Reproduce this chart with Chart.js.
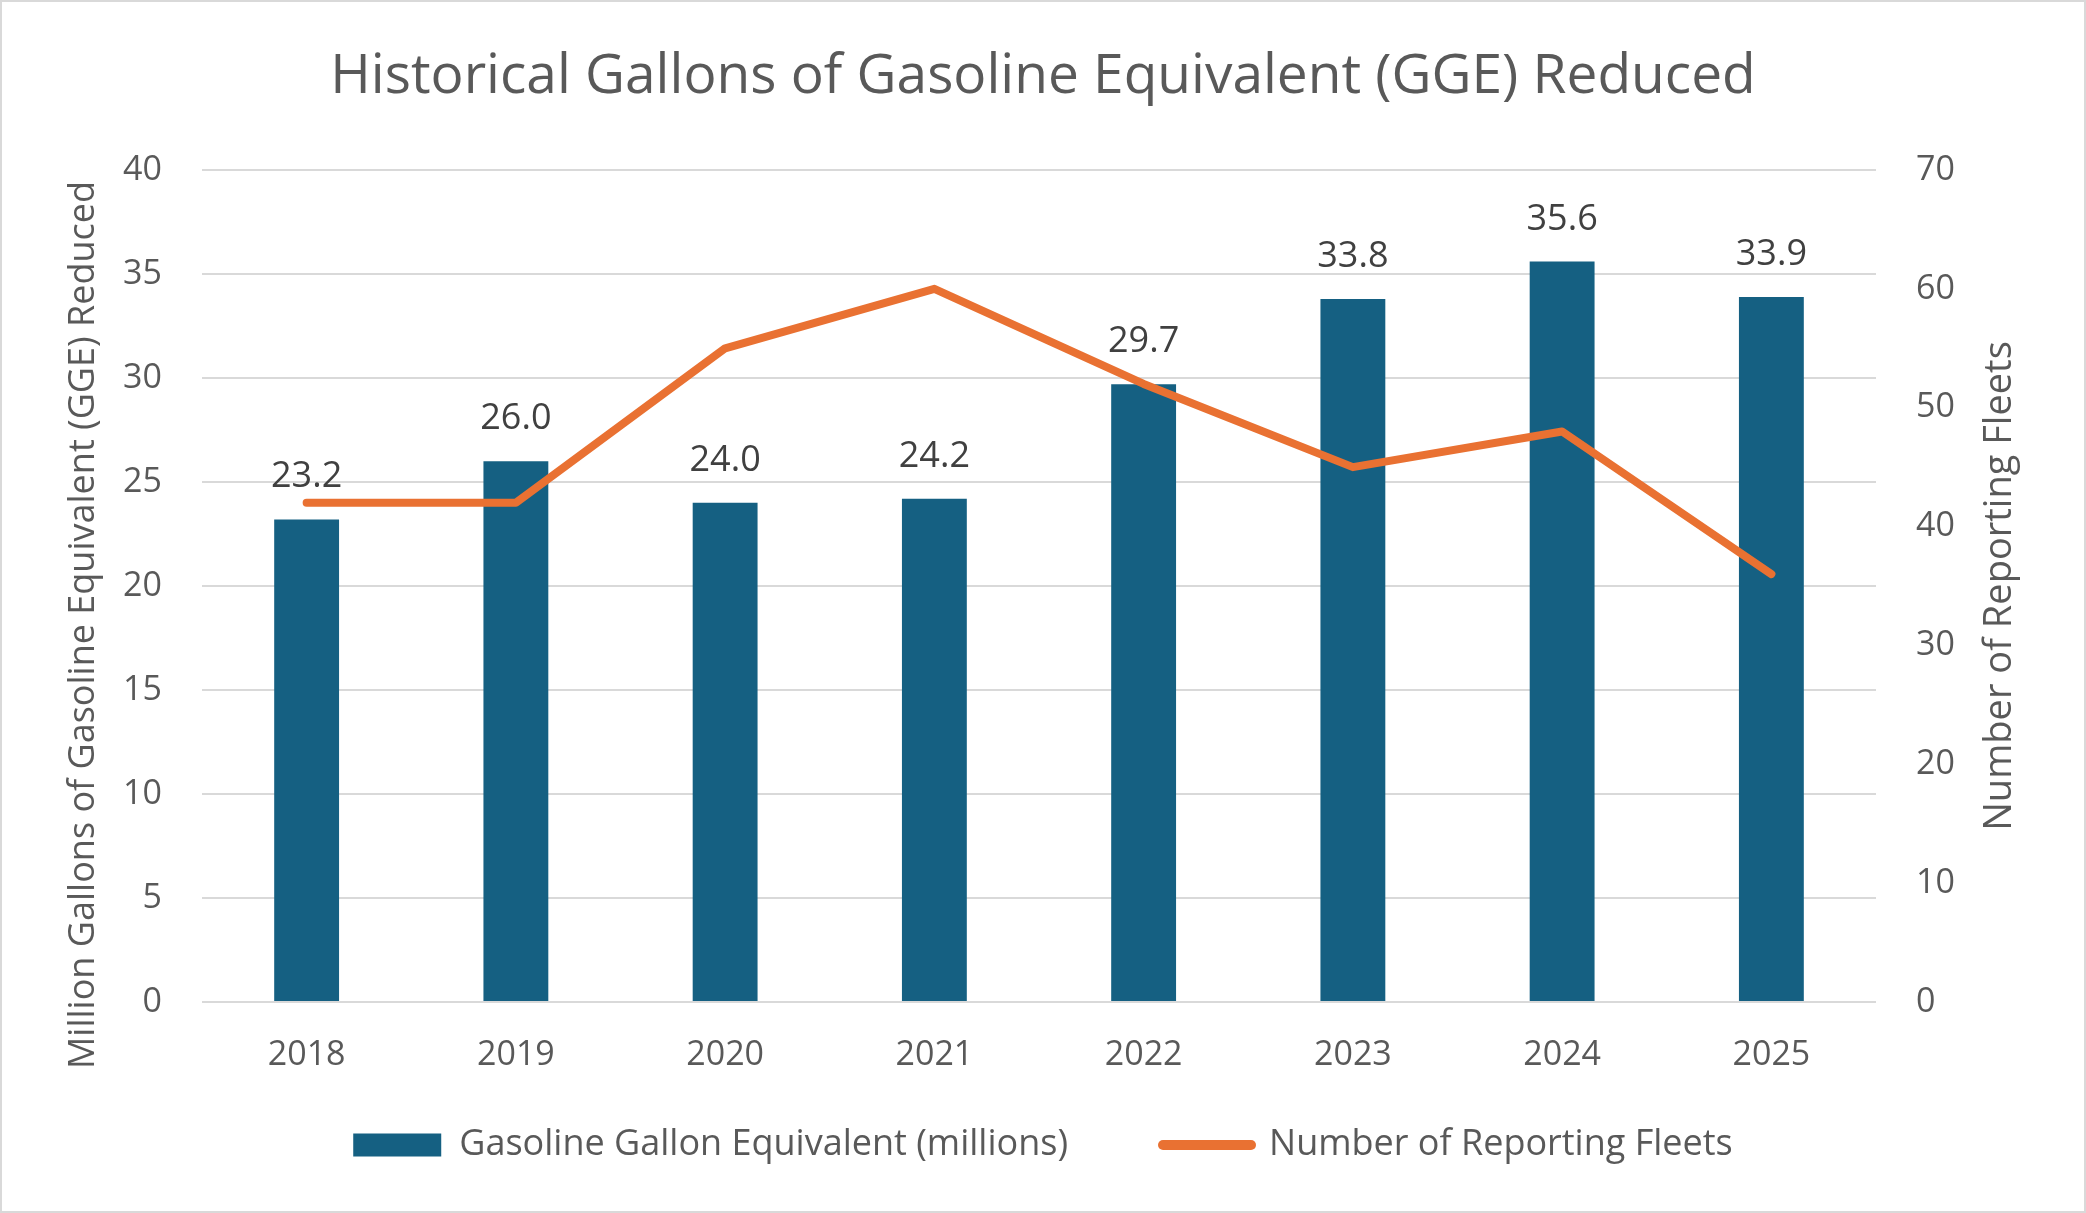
<!DOCTYPE html>
<html>
<head>
<meta charset="utf-8">
<script src="https://cdn.jsdelivr.net/npm/chart.js@4/dist/chart.umd.min.js"></script>
<style>
  html, body { margin: 0; padding: 0; background: #fff; }
  canvas { display: block; }
</style>
</head>
<body>
<canvas id="chart" width="2086" height="1213"></canvas>
<script>
// --- Chart data ---
const years = ['2018', '2019', '2020', '2021', '2022', '2023', '2024', '2025'];
const ggeMillions = [23.2, 26.0, 24.0, 24.2, 29.7, 33.8, 35.6, 33.9];
const reportingFleets = [42, 42, 55, 60, 52, 45, 48, 36];
const leftTicks = [0, 5, 10, 15, 20, 25, 30, 35, 40];
const rightTicks = [0, 10, 20, 30, 40, 50, 60, 70];

const TEXT = '#595959';
const GRID = '#D9D9D9';
const BLUE = '#156082';
const ORANGE = '#E97132';

Chart.defaults.font.family = "'Open Sans', sans-serif";
Chart.defaults.color = TEXT;

// white background + thin outer frame
const framePlugin = {
    id: 'frame',
    beforeDraw(chart) {
        const ctx = chart.ctx;
        ctx.save();
        ctx.fillStyle = '#fff';
        ctx.fillRect(0, 0, chart.width, chart.height);
        ctx.strokeStyle = GRID;
        ctx.lineWidth = 2;
        ctx.strokeRect(1, 1, chart.width - 2, chart.height - 2);
        ctx.restore();
    }
};

// value labels above the bars
const barLabelPlugin = {
    id: 'barLabels',
    afterDatasetsDraw(chart) {
        const ctx = chart.ctx;
        const meta = chart.getDatasetMeta(0);
        ctx.save();
        ctx.font = "36px 'Open Sans', sans-serif";
        ctx.fillStyle = '#404040';
        ctx.textAlign = 'center';
        ctx.textBaseline = 'alphabetic';
        meta.data.forEach((bar, i) => {
            ctx.fillText(ggeMillions[i].toFixed(1), bar.x, bar.y - 32);
        });
        ctx.restore();
    }
};

// both axis titles read bottom-to-top, so draw them ourselves
const axisTitlePlugin = {
    id: 'axisTitles',
    afterDraw(chart) {
        const ctx = chart.ctx;
        const area = chart.chartArea;
        ctx.save();
        ctx.font = "36px 'Open Sans', sans-serif";
        ctx.fillStyle = TEXT;
        ctx.textAlign = 'center';
        ctx.textBaseline = 'middle';
        ctx.translate(84, 625);
        ctx.rotate(-Math.PI / 2);
        ctx.fillText('Million Gallons of Gasoline Equivalent (GGE) Reduced', 0, 0);
        ctx.restore();

        ctx.save();
        ctx.font = "38px 'Open Sans', sans-serif";
        ctx.fillStyle = TEXT;
        ctx.textAlign = 'center';
        ctx.textBaseline = 'middle';
        ctx.translate(2000, (area.top + area.bottom) / 2);
        ctx.rotate(-Math.PI / 2);
        ctx.fillText('Number of Reporting Fleets', 0, 0);
        ctx.restore();
    }
};

new Chart(document.getElementById('chart'), {
    data: {
        labels: years,
        datasets: [
            {
                type: 'bar',
                label: 'Gasoline Gallon Equivalent (millions)',
                data: ggeMillions,
                backgroundColor: BLUE,
                barPercentage: 0.31,
                categoryPercentage: 1,
                yAxisID: 'y',
                order: 1
            },
            {
                type: 'line',
                label: 'Number of Reporting Fleets',
                data: reportingFleets,
                borderColor: ORANGE,
                backgroundColor: ORANGE,
                borderWidth: 8,
                borderCapStyle: 'round',
                borderJoinStyle: 'round',
                pointRadius: 0,
                tension: 0,
                yAxisID: 'y1',
                order: 0
            }
        ]
    },
    options: {
        responsive: false,
        animation: false,
        devicePixelRatio: 1,
        layout: { padding: { top: 0, left: 0, right: 0, bottom: 40 } },
        plugins: {
            title: {
                display: true,
                text: 'Historical Gallons of Gasoline Equivalent (GGE) Reduced',
                color: TEXT,
                font: { size: 55, weight: 'normal' },
                padding: { top: 44, bottom: 60 }
            },
            legend: {
                position: 'bottom',
                labels: {
                    usePointStyle: true,
                    pointStyleWidth: 88,
                    boxHeight: 23,
                    padding: 95,
                    color: TEXT,
                    font: { size: 36 },
                    generateLabels(chart) {
                        const items = Chart.defaults.plugins.legend.labels.generateLabels(chart);
                        items.sort((a, b) => a.datasetIndex - b.datasetIndex);
                        return items.map(item => {
                            if (item.datasetIndex === 0) {
                                return { ...item, pointStyle: 'rect', lineWidth: 0 };
                            }
                            return { ...item, pointStyle: 'line', lineWidth: 10, lineCap: 'round', strokeStyle: ORANGE };
                        });
                    }
                }
            },
            tooltip: { enabled: false }
        },
        scales: {
            x: {
                grid: { display: false, drawTicks: false },
                border: { display: false },
                ticks: { color: TEXT, font: { size: 34 }, padding: 33, autoSkip: false, maxRotation: 0, minRotation: 0 },
                afterFit(scale) {
                    // the legend sits partly under this band; don't clip the year labels to it
                    scale.height = 30;
                    scale._computeLabelArea = () => undefined;
                }
            },
            y: {
                position: 'left',
                min: 0,
                max: 40,
                afterBuildTicks(scale) { scale.ticks = leftTicks.map(v => ({ value: v })); },
                grid: { color: GRID, lineWidth: 2, drawTicks: false },
                border: { display: false },
                ticks: { color: TEXT, font: { size: 34 }, padding: 40 },
                afterFit(scale) { scale.width = 202; }
            },
            y1: {
                position: 'right',
                min: 0,
                max: 70,
                afterBuildTicks(scale) { scale.ticks = rightTicks.map(v => ({ value: v })); },
                grid: { drawOnChartArea: false, drawTicks: false },
                border: { display: false },
                ticks: { color: TEXT, font: { size: 34 }, padding: 40 },
                afterFit(scale) { scale.width = 210; }
            }
        }
    },
    plugins: [framePlugin, barLabelPlugin, axisTitlePlugin]
});
</script>
</body>
</html>
